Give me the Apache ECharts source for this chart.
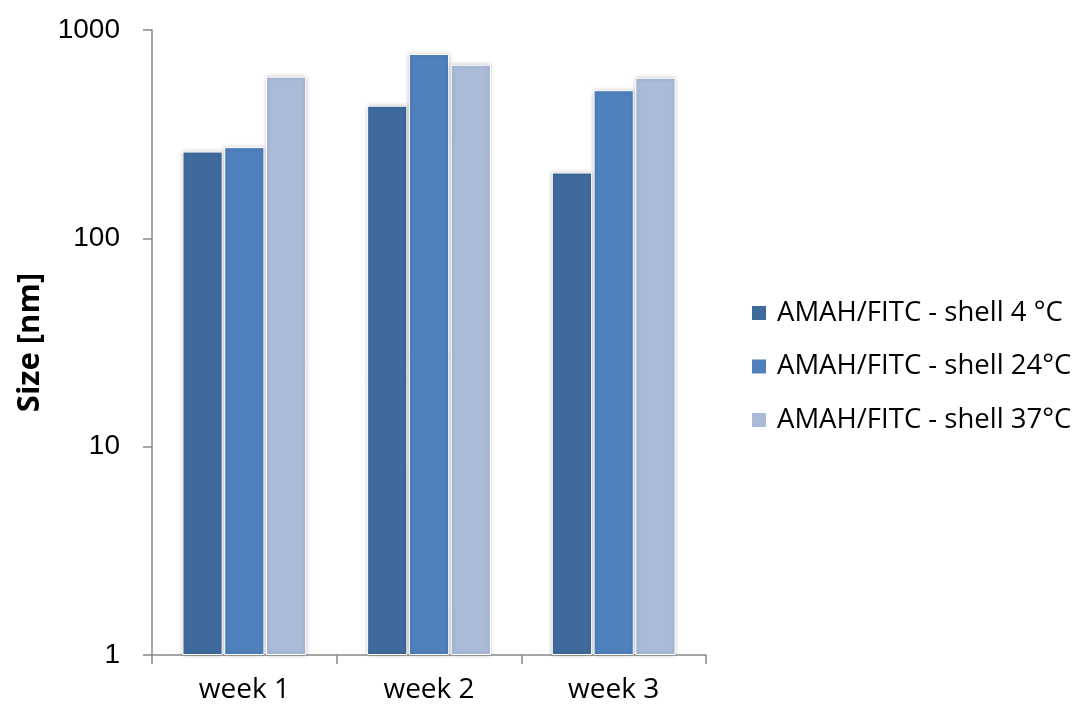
<!DOCTYPE html>
<html>
<head>
<meta charset="utf-8">
<script src="https://cdn.jsdelivr.net/npm/echarts@6/dist/echarts.min.js"></script>
<style>
  html, body { margin: 0; padding: 0; background: #fff; }
  #chart { width: 1083px; height: 709px; }
</style>
</head>
<body>
<div id="chart"></div>
<script>
// Particle size over three weeks for shells formed at different temperatures
const categories = ['week 1', 'week 2', 'week 3'];
const seriesNames = ['AMAH/FITC - shell 4 °C', 'AMAH/FITC - shell 24°C', 'AMAH/FITC - shell 37°C'];
const shell4 = [261, 433, 207];
const shell24 = [274, 767, 514];
const shell37 = [597, 681, 590];
const yTickLabels = [1, 10, 100, 1000];

const colors = ['#3F6A9C', '#4F81BD', '#AABAD8'];
const textFont = 'Open Sans';

const chart = echarts.init(document.getElementById('chart'));

function barSeries(name, data, color) {
  return {
    name: name,
    type: 'bar',
    data: data,
    barGap: '4%',
    barCategoryGap: '33%',
    itemStyle: {
      color: color,
      borderColor: '#ffffff',
      borderWidth: 1,
      shadowColor: 'rgba(0,0,0,0.22)',
      shadowBlur: 4,
      shadowOffsetX: 0,
      shadowOffsetY: 0
    }
  };
}

chart.setOption({
  animation: false,
  backgroundColor: '#ffffff',
  color: colors,
  grid: { left: 152, top: 30, right: 377, bottom: 54 },
  legend: {
    orient: 'vertical',
    left: 745,
    top: 294,
    itemWidth: 16,
    itemHeight: 16,
    itemGap: 25.5,
    icon: 'rect',
    textStyle: { fontFamily: textFont, fontSize: 27.5, lineHeight: 28, color: '#000', padding: [0, 0, 0, 5] },
    data: seriesNames
  },
  xAxis: {
    type: 'category',
    data: categories,
    axisLine: { lineStyle: { color: '#888', width: 1.5 } },
    axisTick: { show: true, length: 9, lineStyle: { color: '#888', width: 1.5 } },
    axisLabel: { fontFamily: textFont, fontSize: 28, color: '#000', margin: 21 }
  },
  yAxis: {
    type: 'log',
    logBase: 10,
    min: yTickLabels[0],
    max: yTickLabels[yTickLabels.length - 1],
    name: 'Size [nm]',
    nameLocation: 'middle',
    nameGap: 106,
    nameTextStyle: { fontFamily: textFont, fontSize: 31, fontWeight: 'bold', color: '#000' },
    axisLine: { show: true, lineStyle: { color: '#888', width: 1.5 } },
    axisTick: { show: true, length: 9, lineStyle: { color: '#888', width: 1.5 } },
    splitLine: { show: false },
    axisLabel: {
      fontFamily: 'Liberation Sans',
      fontSize: 28,
      color: '#000',
      margin: 32,
      formatter: function (v) { return String(Math.round(v)); }
    }
  },
  series: [
    barSeries(seriesNames[0], shell4, colors[0]),
    barSeries(seriesNames[1], shell24, colors[1]),
    barSeries(seriesNames[2], shell37, colors[2])
  ]
});
</script>
</body>
</html>
